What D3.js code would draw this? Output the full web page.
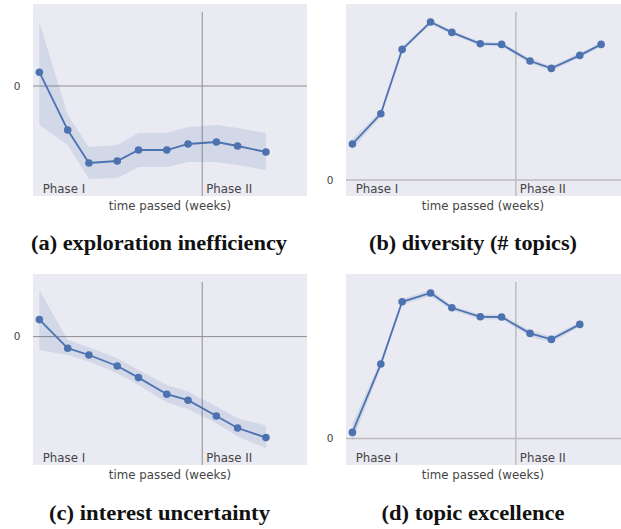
<!DOCTYPE html>
<html>
<head>
    <meta charset="utf-8">
    <title>Phase I / Phase II trends</title>
    <script type="text/javascript" src="https://d3js.org/d3.v7.min.js"></script>
    <style>
        body { margin: 0; background: #ffffff; }
    </style>
</head>
<body>
    <div id="div-svg"></div>

    <script type="text/javascript">
        // time of each observation (days since start)
        const days = [0, 4, 7, 11, 14, 18, 21, 25, 28, 32, 35];
        const phaseTwoStart = 23;

        // (a) exploration inefficiency
        const ineffMean = [0.69, -2.2, -3.85, -3.75, -3.2, -3.2, -2.9, -2.8, -3.0, -3.3];
        const ineffHigh = [3.2, -1.45, -3.05, -2.95, -2.35, -2.35, -2.05, -1.95, -2.1, -2.35];
        const ineffLow = [-1.95, -2.95, -4.65, -4.6, -4.05, -4.05, -3.8, -3.8, -3.95, -4.2];

        // (b) diversity (# topics)
        const divMean = [1.8, 3.31, 6.53, 7.9, 7.38, 6.81, 6.78, 5.95, 5.58, 6.23, 6.78];
        const divHigh = [2.05, 3.46, 6.65, 8.0, 7.48, 6.91, 6.88, 6.07, 5.7, 6.35, 6.88];
        const divLow = [1.55, 3.16, 6.41, 7.8, 7.28, 6.71, 6.68, 5.83, 5.46, 6.11, 6.68];

        // (c) interest uncertainty
        const uncMean = [0.85, -0.58, -0.92, -1.47, -2.05, -2.88, -3.18, -3.97, -4.57, -5.05];
        const uncHigh = [2.33, -0.17, -0.53, -1.08, -1.67, -2.42, -2.75, -3.5, -4.08, -4.45];
        const uncLow = [-0.67, -0.92, -1.25, -1.83, -2.42, -3.3, -3.62, -4.33, -5.0, -5.58];

        // (d) topic excellence
        const excMean = [0.3, 3.72, 6.83, 7.27, 6.53, 6.08, 6.07, 5.25, 4.95, 5.7];
        const excHigh = [0.75, 3.92, 6.98, 7.42, 6.65, 6.2, 6.19, 5.4, 5.1, 5.82];
        const excLow = [-0.15, 3.52, 6.68, 7.12, 6.41, 5.96, 5.95, 5.1, 4.8, 5.58];

        const captions = ["(a) exploration inefficiency", "(b) diversity (# topics)",
            "(c) interest uncertainty", "(d) topic excellence"];

        let width = 621;
        let height = 529;
        let blue = "#4C72B0";

        let svg = d3.select("#div-svg")
            .append("svg")
            .attr("width", width)
            .attr("height", height);

        // one entry per subplot
        let panels = [
            { mean: ineffMean, hi: ineffHigh, lo: ineffLow, left: 33, top: 4, w: 274, h: 192,
              yDom: [-5.5, 4.1], capX: 159, capY: 250, capW: 256, light: false },
            { mean: divMean, hi: divHigh, lo: divLow, left: 346, top: 4, w: 275, h: 192,
              yDom: [-0.8, 8.8], capX: 473, capY: 250, capW: 208, light: true },
            { mean: uncMean, hi: uncHigh, lo: uncLow, left: 33, top: 274, w: 274, h: 191,
              yDom: [-6.42, 3.13], capX: 159.5, capY: 520, capW: 221, light: false },
            { mean: excMean, hi: excHigh, lo: excLow, left: 346, top: 274, w: 275, h: 191,
              yDom: [-1.33, 8.22], capX: 473, capY: 520, capW: 183, light: true }
        ];

        panels.forEach(function (p, i) {
            let g = svg.append("g")
                .attr("transform", "translate(" + p.left + "," + p.top + ")");

            let xScale = d3.scaleLinear()
                .domain([-0.9, 37.8])
                .range([0, p.w]);

            let yScale = d3.scaleLinear()
                .domain(p.yDom)
                .range([p.h, 0]);

            let pts = p.mean.map(function (v, j) {
                return { x: days[j], y: v, lo: p.lo[j], hi: p.hi[j] };
            });

            // background
            g.append("rect")
                .attr("width", p.w)
                .attr("height", p.h)
                .attr("fill", "#EAEAF2");

            let refColor = p.light ? "#bdbdbd" : "#8e8e8e";
            let refWidth = p.light ? 1.5 : 1;

            // zero reference line
            g.append("line")
                .attr("x1", 0)
                .attr("x2", p.w)
                .attr("y1", yScale(0))
                .attr("y2", yScale(0))
                .attr("stroke", refColor)
                .attr("stroke-width", refWidth);

            // phase boundary
            g.append("line")
                .attr("x1", xScale(phaseTwoStart))
                .attr("x2", xScale(phaseTwoStart))
                .attr("y1", 8)
                .attr("y2", p.h)
                .attr("stroke", refColor)
                .attr("stroke-width", refWidth);

            // y tick label (only zero)
            g.append("text")
                .attr("x", -12.5)
                .attr("y", yScale(0))
                .attr("dy", "0.35em")
                .attr("text-anchor", "end")
                .attr("font-family", "DejaVu Sans")
                .attr("font-size", 10.5)
                .attr("fill", "#444")
                .text("0");

            // confidence band
            g.append("path")
                .datum(pts)
                .attr("fill", blue)
                .attr("fill-opacity", 0.15)
                .attr("d", d3.area()
                    .x(function (d) { return xScale(d.x); })
                    .y0(function (d) { return yScale(d.lo); })
                    .y1(function (d) { return yScale(d.hi); }));

            // mean line
            g.append("path")
                .datum(pts)
                .attr("fill", "none")
                .attr("stroke", blue)
                .attr("stroke-width", 1.8)
                .attr("d", d3.line()
                    .x(function (d) { return xScale(d.x); })
                    .y(function (d) { return yScale(d.y); }));

            g.selectAll("circle")
                .data(pts)
                .enter()
                .append("circle")
                .attr("cx", function (d) { return xScale(d.x); })
                .attr("cy", function (d) { return yScale(d.y); })
                .attr("r", 3.8)
                .attr("fill", blue);

            // phase labels
            g.append("text")
                .attr("x", 9.7)
                .attr("y", p.h - 3)
                .attr("font-family", "DejaVu Sans")
                .attr("font-size", 11.8)
                .attr("fill", "#444")
                .text("Phase I");

            g.append("text")
                .attr("x", xScale(phaseTwoStart) + 4)
                .attr("y", p.h - 3)
                .attr("font-family", "DejaVu Sans")
                .attr("font-size", 11.8)
                .attr("fill", "#444")
                .text("Phase II");

            // x axis label
            g.append("text")
                .attr("x", 137)
                .attr("y", p.h + 13.5)
                .attr("text-anchor", "middle")
                .attr("font-family", "DejaVu Sans")
                .attr("font-size", 11.8)
                .attr("fill", "#444")
                .text("time passed (weeks)");

            // caption
            svg.append("text")
                .attr("x", p.capX)
                .attr("y", p.capY)
                .attr("text-anchor", "middle")
                .attr("font-family", "Liberation Serif")
                .attr("font-weight", "bold")
                .attr("font-size", 20)
                .attr("textLength", p.capW)
                .attr("lengthAdjust", "spacingAndGlyphs")
                .attr("fill", "#111")
                .text(captions[i]);
        });
    </script>
</body>
</html>
